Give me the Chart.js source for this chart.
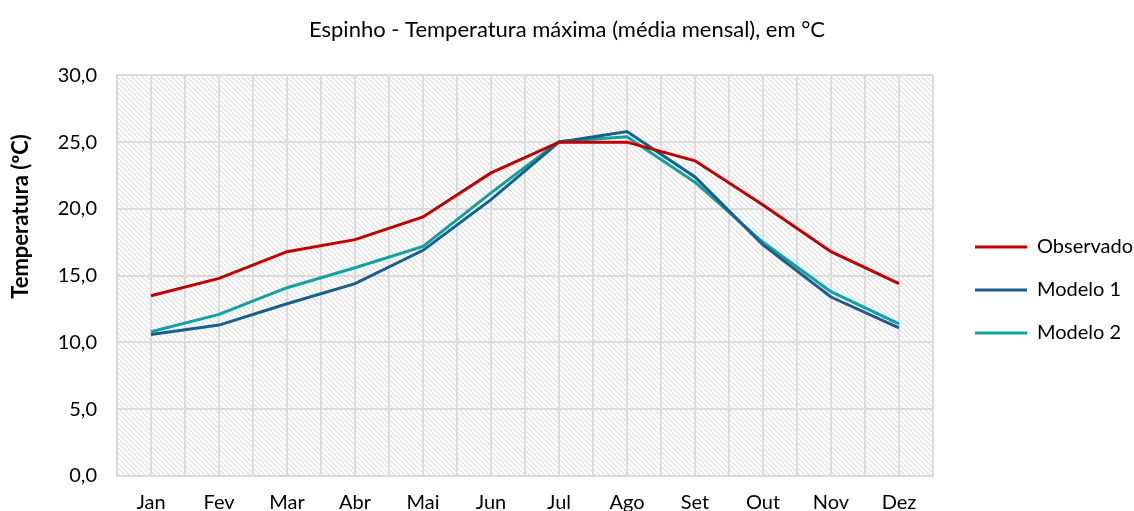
<!DOCTYPE html>
<html>
<head>
<meta charset="utf-8">
<script src="https://cdn.jsdelivr.net/npm/chart.js@4.4.1/dist/chart.umd.min.js"></script>
<style>
  html, body { margin: 0; padding: 0; background: #fff; overflow: hidden; }
  #wrap { width: 1134px; height: 516px; }
</style>
</head>
<body>
<div id="wrap"><canvas id="myChart" width="1134" height="516"></canvas></div>
<script>
// monthly max temperature, Espinho
const months = ['Jan', 'Fev', 'Mar', 'Abr', 'Mai', 'Jun', 'Jul', 'Ago', 'Set', 'Out', 'Nov', 'Dez'];
const observado = [13.5, 14.8, 16.8, 17.7, 19.4, 22.7, 25.0, 25.0, 23.6, 20.3, 16.8, 14.4];
const modelo1 = [10.6, 11.3, 12.9, 14.4, 16.9, 20.7, 25.0, 25.8, 22.4, 17.3, 13.4, 11.1];
const modelo2 = [10.8, 12.1, 14.1, 15.6, 17.2, 21.2, 25.05, 25.4, 22.0, 17.5, 13.8, 11.4];
const yTicks = [0, 5, 10, 15, 20, 25, 30];

const toPoints = arr => arr.map((v, i) => ({ x: i + 1, y: v }));

// hatched plot background
const makePattern = (ctx) => {
    const c = document.createElement('canvas');
    c.width = 5;
    c.height = 5;
    const g = c.getContext('2d');
    g.fillStyle = '#ffffff';
    g.fillRect(0, 0, 5, 5);
    g.strokeStyle = '#e0e0e0';
    g.lineWidth = 1.2;
    g.beginPath();
    g.moveTo(-1, -1); g.lineTo(6, 6);
    g.moveTo(-1, 4); g.lineTo(1, 6);
    g.moveTo(4, -1); g.lineTo(6, 1);
    g.stroke();
    return ctx.createPattern(c, 'repeat');
};

const hatchPlugin = {
    id: 'hatch',
    beforeDraw(chart) {
        const { ctx, chartArea } = chart;
        ctx.save();
        ctx.fillStyle = makePattern(ctx);
        ctx.fillRect(chartArea.left, chartArea.top, chartArea.right - chartArea.left, chartArea.bottom - chartArea.top);
        ctx.restore();
    }
};

// empty box between plot and legend
const gapPlugin = {
    id: 'legendGap',
    beforeInit(chart) {
        Chart.layouts.addBox(chart, {
            position: 'right',
            weight: 500,
            fullSize: false,
            options: {},
            left: 0, top: 0, right: 0, bottom: 0, width: 0, height: 0,
            update(maxWidth, maxHeight) { this.width = 19; this.height = maxHeight; },
            isHorizontal() { return false; },
            draw() {}
        });
    }
};

const font = "Lato, 'Open Sans', sans-serif";

new Chart(document.getElementById('myChart'), {
    type: 'line',
    data: {
        datasets: [
            { label: 'Observado', data: toPoints(observado), borderColor: '#C00000', backgroundColor: '#C00000' },
            { label: 'Modelo 1', data: toPoints(modelo1), borderColor: '#1A5E8E', backgroundColor: '#1A5E8E' },
            { label: 'Modelo 2', data: toPoints(modelo2), borderColor: '#12A1A1', backgroundColor: '#12A1A1' }
        ].map(d => Object.assign(d, { borderWidth: 3, pointRadius: 0, tension: 0, fill: false }))
    },
    plugins: [hatchPlugin, gapPlugin],
    options: {
        responsive: false,
        animation: false,
        layout: { padding: 0, autoPadding: false },
        scales: {
            x: {
                type: 'linear',
                min: 0.5,
                max: 12.5,
                afterFit: axis => { axis.height = 40; },
                ticks: {
                    stepSize: 0.5,
                    autoSkip: false,
                    maxRotation: 0,
                    padding: 15,
                    color: '#000',
                    font: { family: font, size: 20 },
                    callback: v => Number.isInteger(v) ? months[v - 1] : ''
                },
                grid: { color: '#dcdcdc', lineWidth: 2, drawTicks: false },
                border: { color: '#d9d9d9', width: 2 }
            },
            y: {
                min: 0,
                max: 30,
                afterFit: axis => { axis.width = 117; },
                afterBuildTicks: axis => { axis.ticks = yTicks.map(v => ({ value: v })); },
                ticks: {
                    padding: 20,
                    color: '#000',
                    font: { family: font, size: 20 },
                    callback: v => v.toFixed(1).replace('.', ',')
                },
                grid: { color: '#dcdcdc', lineWidth: 2, drawTicks: false },
                border: { color: '#d9d9d9', width: 2 },
                title: {
                    display: true,
                    align: 'end',
                    text: 'Temperatura (ºC)           ',
                    color: '#000',
                    font: { family: font, size: 22, weight: 'bold' },
                    padding: { top: 8, bottom: 6 }
                }
            }
        },
        plugins: {
            title: {
                display: true,
                text: 'Espinho - Temperatura máxima (média mensal), em °C',
                color: '#000',
                font: { family: font, size: 22, weight: 'normal' },
                padding: { top: 17, bottom: 32 }
            },
            legend: {
                position: 'right',
                maxWidth: 182,
                title: { display: true, text: ' ', font: { size: 10 }, padding: { top: 0, bottom: 52 } },
                labels: {
                    usePointStyle: true,
                    pointStyle: 'line',
                    pointStyleWidth: 52,
                    padding: 23,
                    color: '#000',
                    font: { family: font, size: 20 }
                }
            },
            tooltip: { enabled: false }
        }
    }
});
</script>
</body>
</html>
